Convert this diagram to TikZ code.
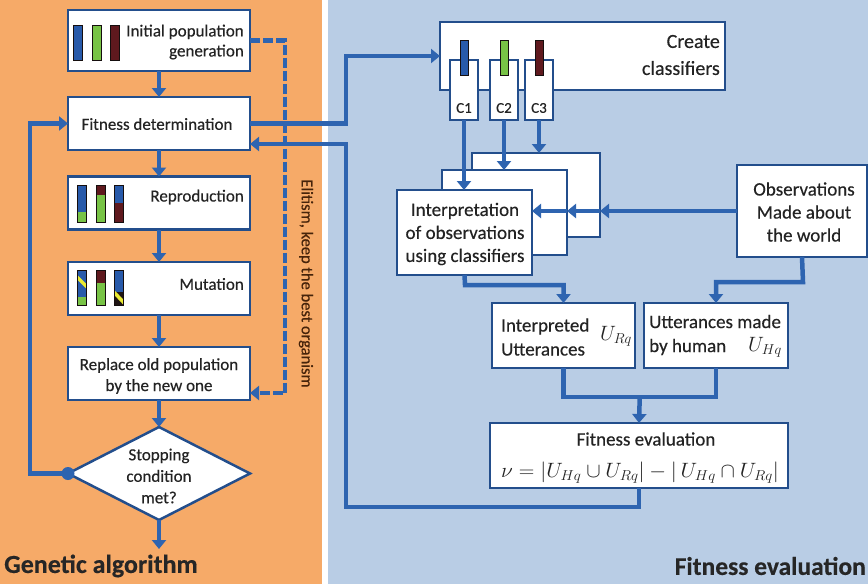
\documentclass[tikz,border=0pt]{standalone}
\usepackage{fontspec}
\setmainfont{Carlito}[FakeBold=0.35]
\usetikzlibrary{arrows.meta,shapes.geometric}
\definecolor{orbg}{RGB}{246,170,104}
\definecolor{blbg}{RGB}{185,205,229}
\definecolor{ln}{RGB}{46,100,176}
\definecolor{bx}{RGB}{35,78,140}
\definecolor{txt}{RGB}{35,35,35}
\definecolor{elit}{RGB}{70,35,10}
\definecolor{barB}{RGB}{40,90,170}
\definecolor{barG}{RGB}{120,195,70}
\definecolor{barR}{RGB}{95,25,30}
\definecolor{barY}{RGB}{235,235,50}
\definecolor{barK}{RGB}{30,20,20}
\tikzset{
  box/.style={draw=bx, line width=2.5pt, fill=white, inner sep=0pt, outer sep=0pt},
  conn/.style={draw=ln, line width=4.5pt, -{Triangle[width=14pt,length=9pt]}},
  plainln/.style={draw=ln, line width=4.5pt},
  dashconn/.style={draw=ln, line width=4.5pt, dash pattern=on 10pt off 3pt, -{Triangle[width=14pt,length=9pt]}},
  lbl/.style={text=txt, inner sep=0pt, font=\fontsize{17}{18}\selectfont},
  rlbl/.style={text=txt, inner sep=0pt, font=\fontsize{19}{23}\selectfont},
  bigm/.style={text=txt, inner sep=0pt, font=\fontsize{22}{26}\selectfont},
  bar/.style={draw=barK!70!black, line width=0.6pt},
}
\begin{document}
\begin{tikzpicture}[x=1pt,y=-1pt]
% backgrounds
\fill[white] (0,0) rectangle (868,584);
\fill[orbg] (0,0) rectangle (322,584);
\fill[blbg] (328,0) rectangle (868,584);
\useasboundingbox (0,0) rectangle (868,584);

% ---------- left: genetic algorithm ----------
\node[box, minimum width=182pt, minimum height=61pt] (init) at (159,40.5) {};
\node[box, minimum width=182pt, minimum height=53pt] (fitd) at (159,123.5) {};
\node[box, minimum width=182pt, minimum height=53pt] (repro) at (159,203) {};
\node[box, minimum width=182pt, minimum height=53pt] (mut) at (159,288.5) {};
\node[box, minimum width=182pt, minimum height=53pt] (repl) at (159,373.5) {};
\node[box, diamond, minimum width=182pt, minimum height=93pt] (stop) at (159,473.5) {};

\node[lbl, anchor=east, align=right, font=\fontsize{17}{20}\selectfont] (initt) at (244,42) {Initial population\\generation};
\node[lbl] (fitdt) at (157,124) {Fitness determination};
\node[lbl, anchor=east] (reprot) at (244,197) {Reproduction};
\node[lbl, anchor=east] (mutt) at (244,284) {Mutation};
\node[lbl, align=center, font=\fontsize{17}{21}\selectfont] (replt) at (159,376) {Replace old population\\by the new one};
\node[lbl, align=center, font=\fontsize{17}{21.5}\selectfont] (stopt) at (159,476) {Stopping\\condition\\met?};

% bars: initial
\fill[barB] (73,25) rectangle (82,60); \draw[bar] (73,25) rectangle (82,60);
\fill[barG] (92,25) rectangle (101,60); \draw[bar] (92,25) rectangle (101,60);
\fill[barR] (110,25) rectangle (119,60); \draw[bar] (110,25) rectangle (119,60);
% bars: reproduction
\fill[barB] (77,185) rectangle (86,212); \fill[barG] (77,212) rectangle (86,222); \draw[bar] (77,185) rectangle (86,222);
\fill[barR] (96,185) rectangle (105,195); \fill[barG] (96,195) rectangle (105,222); \draw[bar] (96,185) rectangle (105,222);
\fill[barB] (114,185) rectangle (123,203); \fill[barR] (114,203) rectangle (123,222); \draw[bar] (114,185) rectangle (123,222);
% bars: mutation
\begin{scope}
\clip (77,270) rectangle (86,305);
\fill[barB] (77,270) rectangle (86,297); \fill[barG] (77,297) rectangle (86,305);
\draw[barY, line width=3.5pt] (72,272) -- (90,290);
\end{scope}
\draw[bar] (77,270) rectangle (86,305);
\fill[barR] (96,270) rectangle (105,283); \fill[barG] (96,283) rectangle (105,305); \draw[bar] (96,270) rectangle (105,305);
\begin{scope}
\clip (114,270) rectangle (123,305);
\fill[barB] (114,270) rectangle (123,292); \fill[barK] (114,292) rectangle (123,305);
\draw[barY, line width=3.5pt] (110,288) -- (127,306);
\end{scope}
\draw[bar] (114,270) rectangle (123,305);

% vertical arrows
\draw[conn] (init.south) -- (fitd.north);
\draw[conn] (fitd.south) -- (repro.north);
\draw[conn] (repro.south) -- (mut.north);
\draw[conn] (mut.south) -- (repl.north);
\draw[conn] (repl.south) -- (stop.north);
\coordinate (gaend) at (159,549);
\draw[conn] (stop.south) -- (gaend);

% loop back
\coordinate (l1) at (30,473.5);
\coordinate (l2) at (30,123.5);
\draw[conn] (stop.west) -- (l1) -- (l2) -- (fitd.west);
\fill[ln] (stop.west) circle (6.5pt);

% ---------- right: fitness evaluation ----------
\node[box, minimum width=285pt, minimum height=68pt] (create) at (582.5,56) {};
\node[box, minimum width=28pt, minimum height=60pt] (c1) at (464,90) {};
\node[box, minimum width=28pt, minimum height=60pt] (c2) at (504,90) {};
\node[box, minimum width=28pt, minimum height=60pt] (c3) at (539,90) {};
\fill[barB] (460,40) rectangle (468,75); \draw[bar] (460,40) rectangle (468,75);
\fill[barG] (500,40) rectangle (508,75); \draw[bar] (500,40) rectangle (508,75);
\fill[barR] (535,40) rectangle (543,75); \draw[bar] (535,40) rectangle (543,75);
\node[lbl, font=\fontsize{15}{17}\selectfont] (c1t) at (464,108) {C1};
\node[lbl, font=\fontsize{15}{17}\selectfont] (c2t) at (504,108) {C2};
\node[lbl, font=\fontsize{15}{17}\selectfont] (c3t) at (539,108) {C3};
\node[text=txt, inner sep=0pt, anchor=east, align=right, font=\fontsize{20}{27}\selectfont] (createt) at (720,55) {Create\\classifiers};

\node[box, minimum width=128pt, minimum height=84pt] (back) at (536,195) {};
\node[box, minimum width=125pt, minimum height=85pt] (mid) at (504.5,212.5) {};
\node[box, minimum width=135pt, minimum height=85pt] (front) at (464.5,232.5) {};
\node[rlbl, align=center] (frontt) at (465,234) {Interpretation\\of observations\\using classifiers};

\node[box, minimum width=130pt, minimum height=92pt] (obs) at (802,211) {};
\node[rlbl, align=center] (obst) at (804,212) {Observations\\Made about\\the world};

\node[box, minimum width=143pt, minimum height=65pt] (interp) at (563.5,335.5) {};
\node[rlbl, anchor=west, align=left, font=\fontsize{19}{24}\selectfont] (interpt) at (501,337) {Interpreted\\Utterances};
\node[bigm] (urq) at (616,336) {$U_{Rq}$};

\node[box, minimum width=144pt, minimum height=65pt] (utt) at (716,335.5) {};
\node[rlbl, anchor=west, align=left, font=\fontsize{19}{24}\selectfont] (uttt) at (649,335) {Utterances made\\by human};
\node[bigm] (uhq) at (765,347) {$U_{Hq}$};

\node[box, minimum width=298pt, minimum height=65pt] (feval) at (639,455.5) {};
\node[rlbl] (fevalt) at (646,439) {Fitness evaluation};
\node[bigm, xscale=1.04] (form) at (640,473) {$\nu=\left|U_{Hq}\cup U_{Rq}\right|-\left|\,U_{Hq}\cap U_{Rq}\right|$};

% classifier arrows
\draw[conn] (c1.south) -- (c1.south |- front.north);
\draw[conn] (c2.south) -- (c2.south |- mid.north);
\draw[conn] (c3.south) -- (c3.south |- back.north);

% observations into interpretation stack
\coordinate (obsw) at (obs.west);
\draw[conn] (obsw) -- (obsw -| back.east);
\draw[conn] (obsw -| back.east) -- (obsw -| mid.east);
\draw[conn] (obsw -| mid.east) -- (obsw -| front.east);

% to utterance boxes
\coordinate (fbend) at (465,285);
\draw[conn] (front.south) -- (fbend) -| (interp.north);
\coordinate (obend) at (803,282);
\draw[conn] (obs.south) -- (obend) -| (utt.north);

% merge into fitness evaluation
\coordinate (j) at (639.75,397);
\draw[plainln] (interp.south) |- (j) -| (utt.south);
\draw[conn] (j) -- (feval.north);

% fitness determination -> create classifiers
\coordinate (up1) at (346,123.5);
\draw[conn] (fitd.east) -- (up1) |- (create.west);
% fitness evaluation -> back to fitness determination
\coordinate (ret) at (346,507);
\coordinate (retup) at (346,144);
\draw[conn] (feval.south) |- (ret) -- (retup) -- (retup -| fitd.east);

% elitism dashed
\coordinate (e1) at (285,40.5);
\coordinate (e2) at (285,393);
\draw[dashconn] (init.east) -- (e1) -- (e2) -- (e2 -| repl.east);
\node[text=elit, inner sep=0pt, rotate=-90, font=\fontsize{16.5}{18}\selectfont] (elitt) at (306,283.5) {Elitism, keep the best organism};

% panel titles
\node[text=black!85, inner sep=0pt, anchor=west, font=\bfseries\fontsize{26}{28}\selectfont] (gal) at (4,566) {Genetic algorithm};
\node[text=black!85, inner sep=0pt, anchor=east, font=\bfseries\fontsize{25.5}{28}\selectfont] (fel) at (866,566) {Fitness evaluation};
\end{tikzpicture}
\end{document}
